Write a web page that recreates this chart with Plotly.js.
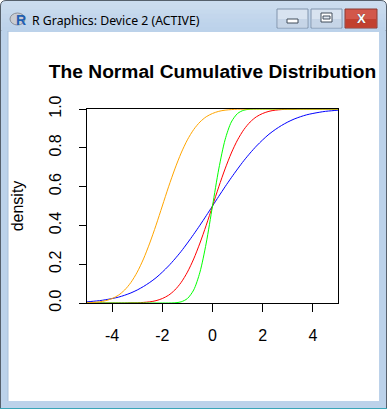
<!DOCTYPE html>
<html>
<head>
<meta charset="utf-8">
<script src="https://cdn.plot.ly/plotly-3.0.1.min.js"></script>
<style>html,body{margin:0;padding:0;background:#fff;}#chart{width:387px;height:409px;}</style>
</head>
<body>
<div id="chart"></div>
<script>
// ---- data ----
const xValues = [-5,-4.75,-4.5,-4.25,-4,-3.75,-3.5,-3.25,-3,-2.75,-2.5,-2.25,-2,-1.75,-1.5,-1.25,-1,-0.75,-0.5,-0.25,0,0.25,0.5,0.75,1,1.25,1.5,1.75,2,2.25,2.5,2.75,3,3.25,3.5,3.75,4,4.25,4.5,4.75,5];
const blueValues = [0.006,0.009,0.012,0.017,0.023,0.030,0.040,0.052,0.067,0.085,0.106,0.130,0.159,0.191,0.227,0.266,0.309,0.354,0.401,0.450,0.5,0.550,0.599,0.646,0.691,0.734,0.773,0.809,0.841,0.870,0.894,0.915,0.933,0.948,0.960,0.970,0.977,0.983,0.988,0.991,0.994];
const redValues = [0,0,0,0,0,0,0,0.001,0.001,0.003,0.006,0.012,0.023,0.040,0.067,0.106,0.159,0.227,0.309,0.401,0.5,0.599,0.691,0.773,0.841,0.894,0.933,0.960,0.977,0.988,0.994,0.997,0.999,0.999,1,1,1,1,1,1,1];
const greenValues = [0,0,0,0,0,0,0,0,0,0,0,0,0,0,0.001,0.006,0.023,0.067,0.159,0.309,0.5,0.691,0.841,0.933,0.977,0.994,0.999,1,1,1,1,1,1,1,1,1,1,1,1,1,1];
const orangeValues = [0.001,0.003,0.006,0.012,0.023,0.040,0.067,0.106,0.159,0.227,0.309,0.401,0.5,0.599,0.691,0.773,0.841,0.894,0.933,0.960,0.977,0.988,0.994,0.997,0.999,0.999,1,1,1,1,1,1,1,1,1,1,1,1,1,1,1];
const xTicks = [-4,-2,0,2,4];
const xTickText = ['-4','-2','0','2','4'];
const yTicks = [0,0.2,0.4,0.6,0.8,1.0];
const yTickText = ['0.0','0.2','0.4','0.6','0.8','1.0'];
const chartTitle = 'The Normal Cumulative Distribution';
const yTitle = 'density';
const windowTitle = 'R Graphics: Device 2 (ACTIVE)';

// ---- layout geometry (pixels) ----
const W = 387, H = 409, L = 87, R = 338, T = 109, B = 303;
function px(X){ return (X - L) / (R - L); }
function py(Y){ return (B - Y) / (B - T); }
function rect(x0,y0,x1,y1,fill,lineColor,lw){
  return {type:'rect', xref:'paper', yref:'paper', layer:'below',
    x0:px(x0), x1:px(x1), y0:py(y1), y1:py(y0),
    fillcolor:fill, line:{color:lineColor||fill, width:lw||0}};
}
function seg(x0,y0,x1,y1,color,lw){
  return {type:'line', xref:'paper', yref:'paper', layer:'below',
    x0:px(x0), x1:px(x1), y0:py(y0), y1:py(y1), line:{color:color, width:lw||1}};
}
const border = '#bcd2ea';
const shapes = [];
// title bar with rounded top
const tb = `M ${px(0.5)},${py(31)} L ${px(0.5)},${py(6)} Q ${px(0.5)},${py(0.5)} ${px(6)},${py(0.5)} L ${px(381)},${py(0.5)} Q ${px(386.5)},${py(0.5)} ${px(386.5)},${py(6)} L ${px(386.5)},${py(31)} Z`;
shapes.push({type:'path', xref:'paper', yref:'paper', layer:'below', path:tb, fillcolor:'#cbdcef', line:{color:'#56606c', width:1}});
const grad = ['#cadbee','#c6d9ed','#c3d6ec','#c0d5eb','#bed3eb','#bcd2ea'];
for(let i=0;i<grad.length;i++){
  shapes.push(rect(1.5, 5+i*4.4, 385.5, 5+(i+1)*4.4+0.5, grad[i]));
}
// side and bottom borders
shapes.push(rect(0,31,8,409,border));
shapes.push(rect(379,31,387,409,border));
shapes.push(rect(0,401,387,409,border));
shapes.push(seg(0.5,6,0.5,409,'#56606c',1));
shapes.push(seg(386.5,6,386.5,409,'#56606c',1));
shapes.push(seg(0,408.5,387,408.5,'#3aa6b8',1));
shapes.push(seg(8,31,8,401,'#a9c0da',1));
// icon
shapes.push({type:'circle', xref:'paper', yref:'paper', layer:'below',
  x0:px(10), x1:px(25), y0:py(25), y1:py(13), fillcolor:'#c9ccd2', line:{color:'#8a8f98', width:1}});
// buttons
shapes.push(rect(277,9,308,28,'#d8e3f0','#8094ad',1));
shapes.push(rect(278,19,307,27.5,'#c6d5e7'));
shapes.push(rect(287,19,298,23,'#ffffff','#414c5a',1));
shapes.push(rect(311,9,342,28,'#d8e3f0','#8094ad',1));
shapes.push(rect(312,19,341,27.5,'#c6d5e7'));
shapes.push(rect(321,13,332,22,'#ffffff','#414c5a',1));
shapes.push(rect(323,16,330,19,'#e0e8f2','#414c5a',1));
shapes.push(rect(345,9,377,28,'#d2574a','#8a3a33',1));
shapes.push(rect(346,19,376,27.5,'#c2402f'));

const font = {family:'"Liberation Sans", Arial, sans-serif', size:16, color:'#000000'};

const traces = [
  {x:xValues, y:blueValues, color:'#0000ff'},
  {x:xValues, y:redValues, color:'#ff0000'},
  {x:xValues, y:greenValues, color:'#00ff00'},
  {x:xValues, y:orangeValues, color:'#ffa500'}
].map(s => ({x:s.x, y:s.y, type:'scatter', mode:'lines', hoverinfo:'skip',
  line:{color:s.color, width:1, shape:'spline', smoothing:0.8}, cliponaxis:false}));

const layout = {
  width:W, height:H,
  margin:{l:L, r:W-R, t:T, b:H-B, pad:0},
  paper_bgcolor:'#ffffff', plot_bgcolor:'#ffffff',
  showlegend:false,
  font:font,
  title:{text:chartTitle, font:{family:font.family, size:19.2, color:'#000', weight:'bold'},
    x:0.5, xref:'paper', xanchor:'center', y:1-71/H, yref:'container', yanchor:'middle'},
  xaxis:{range:[-5,5], tickvals:xTicks, ticktext:xTickText, ticks:'outside', ticklen:8, tickwidth:1, tickcolor:'#000',
    showline:true, linecolor:'#000', linewidth:1, mirror:true, showgrid:false, zeroline:false,
    ticklabelstandoff:10, tickfont:font, fixedrange:true},
  yaxis:{range:[0,1], tickvals:yTicks, ticktext:yTickText, ticks:'outside', ticklen:7, tickwidth:1, tickcolor:'#000',
    showline:true, linecolor:'#000', linewidth:1, mirror:true, showgrid:false, zeroline:false,
    tickangle:-90, ticklabelstandoff:12, tickfont:font, fixedrange:true,
    title:{text:yTitle, font:font, standoff:18}},
  shapes:shapes,
  annotations:[
    {text:windowTitle, xref:'paper', yref:'paper', x:px(30), y:py(20), xanchor:'left', yanchor:'middle', showarrow:false,
      font:{family:'"Noto Sans", "Open Sans", sans-serif', size:12.3, color:'#000'}},
    {text:'R', xref:'paper', yref:'paper', x:px(20.5), y:py(20), xanchor:'center', yanchor:'middle', showarrow:false,
      font:{family:'"Liberation Sans", Arial, sans-serif', size:14, color:'#1f5fb3', weight:'bold'}},
    {text:'X', xref:'paper', yref:'paper', x:px(361), y:py(18.5), xanchor:'center', yanchor:'middle', showarrow:false,
      font:{family:'"Liberation Sans", Arial, sans-serif', size:13, color:'#ffffff', weight:'bold', shadow:'0 0 1px #3a3a3a'}}
  ]
};
Plotly.newPlot('chart', traces, layout, {displayModeBar:false, staticPlot:true});
</script>
</body>
</html>
